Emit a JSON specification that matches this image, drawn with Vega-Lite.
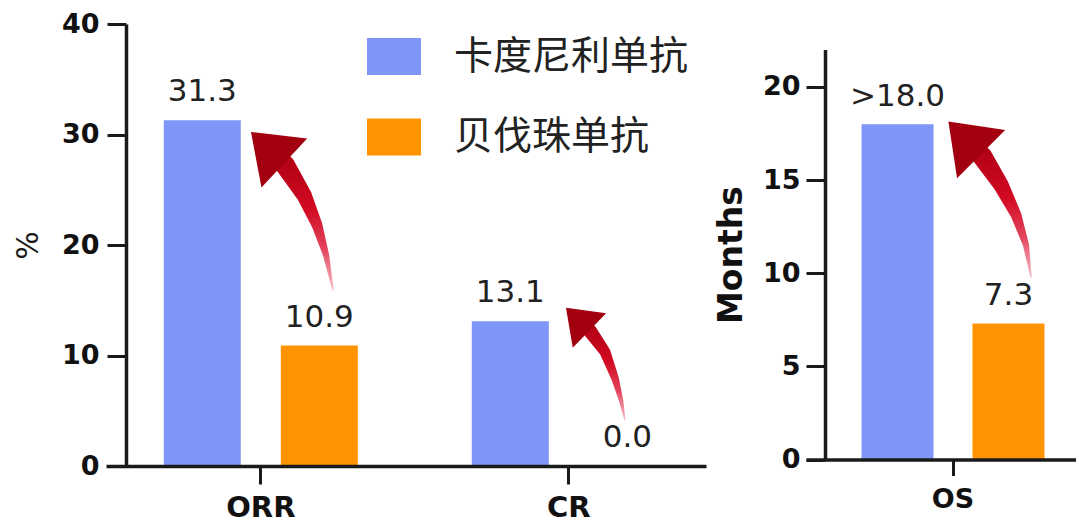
{
  "$schema": "https://vega.github.io/schema/vega-lite/v6.json",
  "padding": {"left": 13, "top": 10, "right": 0, "bottom": 0},
  "background": "white",
  "spacing": 9,
  "datasets": {
    "left": [
      {"metric": "ORR", "group": "卡度尼利单抗", "value": 31.3, "label": "31.3"},
      {"metric": "ORR", "group": "贝伐珠单抗", "value": 10.9, "label": "10.9"},
      {"metric": "CR", "group": "卡度尼利单抗", "value": 13.1, "label": "13.1"},
      {"metric": "CR", "group": "贝伐珠单抗", "value": 0.0, "label": "0.0"}
    ],
    "right": [
      {"metric": "OS", "group": "卡度尼利单抗", "value": 18.0, "label": ">18.0"},
      {"metric": "OS", "group": "贝伐珠单抗", "value": 7.3, "label": "7.3"}
    ],
    "arrowORR": [
      {"ax": 29.83, "ay": 27.24, "t": 0},
      {"ax": 33.0, "ay": 24.52, "t": 0.25},
      {"ax": 35.17, "ay": 21.81, "t": 0.5},
      {"ax": 36.67, "ay": 19.1, "t": 0.75},
      {"ax": 37.83, "ay": 15.93, "t": 1}
    ],
    "headORR": [{"ax": 27.88, "ay": 28.35}],
    "arrowCR": [
      {"ax": 80.67, "ay": 12.22, "t": 0},
      {"ax": 83.17, "ay": 10.32, "t": 0.25},
      {"ax": 84.83, "ay": 7.96, "t": 0.5},
      {"ax": 85.83, "ay": 5.97, "t": 0.75},
      {"ax": 86.5, "ay": 4.16, "t": 1}
    ],
    "headCR": [{"ax": 79.28, "ay": 12.94}],
    "arrowOS": [
      {"ax": 65.19, "ay": 16.29, "t": 0},
      {"ax": 72.22, "ay": 14.73, "t": 0.25},
      {"ax": 77.78, "ay": 13.13, "t": 0.5},
      {"ax": 81.48, "ay": 11.51, "t": 0.75},
      {"ax": 83.33, "ay": 9.8, "t": 1}
    ],
    "headOS": [{"ax": 60.85, "ay": 16.97}]
  },
  "resolve": {
    "scale": {"color": "shared", "x": "independent", "y": "independent", "xOffset": "independent", "size": "independent"},
    "legend": {"color": "shared"}
  },
  "hconcat": [
    {
      "width": 600,
      "height": 442,
      "resolve": {"scale": {"x": "independent", "size": "independent"}},
      "layer": [
        {
          "data": {"name": "left"},
          "layer": [
            {
              "mark": {"type": "bar", "opacity": 1},
              "encoding": {
                "x": {
                  "field": "metric", "type": "nominal", "sort": ["ORR", "CR"],
                  "scale": {"paddingInner": 0.37, "paddingOuter": 0.159, "align": 0.59},
                  "axis": {
                    "title": null, "labelAngle": 0, "labelFontSize": 29, "labelFontWeight": "bold",
                    "labelColor": "#111111", "labelPadding": 9, "tickSize": 18, "tickWidth": 3,
                    "tickColor": "#1a1a1a", "domainWidth": 3.5, "domainColor": "#1a1a1a", "zindex": 1
                  }
                },
                "xOffset": {
                  "field": "group", "type": "nominal", "sort": ["卡度尼利单抗", "贝伐珠单抗"],
                  "scale": {"paddingInner": 0.342, "paddingOuter": 0}
                },
                "y": {
                  "field": "value", "type": "quantitative",
                  "scale": {"domain": [0, 40], "nice": false},
                  "axis": {
                    "title": "%", "titleFontSize": 30, "titleFontWeight": "normal", "titleColor": "#1a1a1a",
                    "titlePadding": 18, "values": [0, 10, 20, 30, 40], "labelFontSize": 27,
                    "labelFontWeight": "bold", "labelColor": "#111111", "labelPadding": 8,
                    "tickSize": 19, "tickWidth": 3, "tickColor": "#1a1a1a", "domainWidth": 3.5,
                    "domainColor": "#1a1a1a", "offset": -20, "zindex": 1
                  }
                },
                "color": {
                  "field": "group", "type": "nominal",
                  "scale": {"domain": ["卡度尼利单抗", "贝伐珠单抗"], "range": ["#7f96f8", "#ff9400"]}
                }
              }
            },
            {
              "mark": {"type": "text", "baseline": "alphabetic", "dy": -19, "fontSize": 31, "color": "#222222"},
              "encoding": {
                "x": {"field": "metric", "type": "nominal", "sort": ["ORR", "CR"],
                      "scale": {"paddingInner": 0.37, "paddingOuter": 0.159, "align": 0.59}},
                "xOffset": {"field": "group", "type": "nominal", "sort": ["卡度尼利单抗", "贝伐珠单抗"],
                            "scale": {"paddingInner": 0.342, "paddingOuter": 0}},
                "y": {"field": "value", "type": "quantitative", "scale": {"domain": [0, 40], "nice": false}},
                "text": {"field": "label"}
              }
            }
          ]
        },
        {
          "data": {"name": "arrowORR"},
          "mark": {"type": "trail", "opacity": 1,
                   "color": {"gradient": "linear", "x1": 0, "y1": 1, "x2": 0, "y2": 0,
                             "stops": [{"offset": 0, "color": "#f7c3cb"}, {"offset": 0.3, "color": "#e4475f"},
                                       {"offset": 0.6, "color": "#d20a22"}, {"offset": 1, "color": "#b00014"}]}},
          "encoding": {
            "x": {"field": "ax", "type": "quantitative", "scale": {"domain": [0, 100], "nice": false, "zero": false}, "axis": null},
            "y": {"field": "ay", "type": "quantitative", "scale": {"domain": [0, 40], "nice": false}},
            "size": {"field": "t", "type": "quantitative", "scale": {"domain": [0, 1], "range": [20, 1.5], "zero": false}, "legend": null}
          }
        },
        {
          "data": {"name": "headORR"},
          "mark": {"type": "point", "filled": true, "opacity": 1, "fill": "#a3000f", "strokeWidth": 0,
                   "shape": "M0,-0.91L1,0.45L-1,0.45Z", "size": 4489, "angle": 313},
          "encoding": {
            "x": {"field": "ax", "type": "quantitative", "scale": {"domain": [0, 100], "nice": false, "zero": false}, "axis": null},
            "y": {"field": "ay", "type": "quantitative", "scale": {"domain": [0, 40], "nice": false}}
          }
        },
        {
          "data": {"name": "arrowCR"},
          "mark": {"type": "trail", "opacity": 1,
                   "color": {"gradient": "linear", "x1": 0, "y1": 1, "x2": 0, "y2": 0,
                             "stops": [{"offset": 0, "color": "#f7c3cb"}, {"offset": 0.3, "color": "#e4475f"},
                                       {"offset": 0.6, "color": "#d20a22"}, {"offset": 1, "color": "#b00014"}]}},
          "encoding": {
            "x": {"field": "ax", "type": "quantitative", "scale": {"domain": [0, 100], "nice": false, "zero": false}, "axis": null},
            "y": {"field": "ay", "type": "quantitative", "scale": {"domain": [0, 40], "nice": false}},
            "size": {"field": "t", "type": "quantitative", "scale": {"domain": [0, 1], "range": [14, 1.2], "zero": false}, "legend": null}
          }
        },
        {
          "data": {"name": "headCR"},
          "mark": {"type": "point", "filled": true, "opacity": 1, "fill": "#a3000f", "strokeWidth": 0,
                   "shape": "M0,-0.91L1,0.45L-1,0.45Z", "size": 2304, "angle": 314},
          "encoding": {
            "x": {"field": "ax", "type": "quantitative", "scale": {"domain": [0, 100], "nice": false, "zero": false}, "axis": null},
            "y": {"field": "ay", "type": "quantitative", "scale": {"domain": [0, 40], "nice": false}}
          }
        }
      ]
    },
    {
      "width": 270,
      "height": 435.5,
      "resolve": {"scale": {"x": "independent", "size": "independent"}},
      "layer": [
        {
          "data": {"name": "right"},
          "layer": [
            {
              "mark": {"type": "bar", "opacity": 1},
              "encoding": {
                "x": {
                  "field": "metric", "type": "nominal",
                  "scale": {"paddingInner": 0, "paddingOuter": 0.238, "align": 0.638},
                  "axis": {
                    "title": null, "labelAngle": 0, "labelFontSize": 27, "labelFontWeight": "bold",
                    "labelColor": "#111111", "labelPadding": 11, "tickSize": 16, "tickWidth": 3,
                    "tickColor": "#1a1a1a", "domainWidth": 3.5, "domainColor": "#1a1a1a", "zindex": 1
                  }
                },
                "xOffset": {
                  "field": "group", "type": "nominal", "sort": ["卡度尼利单抗", "贝伐珠单抗"],
                  "scale": {"paddingInner": 0.351, "paddingOuter": 0}
                },
                "y": {
                  "field": "value", "type": "quantitative",
                  "scale": {"domain": [0, 22], "nice": false, "range": [435.5, 25.6]},
                  "axis": {
                    "title": "Months", "titleFontSize": 33, "titleFontWeight": "bold", "titleColor": "#111111",
                    "titlePadding": 14, "values": [0, 5, 10, 15, 20], "labelFontSize": 27,
                    "labelFontWeight": "bold", "labelColor": "#111111", "labelPadding": 6,
                    "tickSize": 19, "tickWidth": 3, "tickColor": "#1a1a1a", "domainWidth": 3.5,
                    "domainColor": "#1a1a1a", "offset": -19, "zindex": 1
                  }
                },
                "color": {
                  "field": "group", "type": "nominal",
                  "scale": {"domain": ["卡度尼利单抗", "贝伐珠单抗"], "range": ["#7f96f8", "#ff9400"]}
                }
              }
            },
            {
              "mark": {"type": "text", "baseline": "alphabetic", "dy": -18, "fontSize": 31, "color": "#222222"},
              "encoding": {
                "x": {"field": "metric", "type": "nominal",
                      "scale": {"paddingInner": 0, "paddingOuter": 0.238, "align": 0.638}},
                "xOffset": {"field": "group", "type": "nominal", "sort": ["卡度尼利单抗", "贝伐珠单抗"],
                            "scale": {"paddingInner": 0.351, "paddingOuter": 0}},
                "y": {"field": "value", "type": "quantitative", "scale": {"domain": [0, 22], "nice": false, "range": [435.5, 25.6]}},
                "text": {"field": "label"}
              }
            }
          ]
        },
        {
          "data": {"name": "arrowOS"},
          "mark": {"type": "trail", "opacity": 1,
                   "color": {"gradient": "linear", "x1": 0, "y1": 1, "x2": 0, "y2": 0,
                             "stops": [{"offset": 0, "color": "#f7c3cb"}, {"offset": 0.3, "color": "#e4475f"},
                                       {"offset": 0.6, "color": "#d20a22"}, {"offset": 1, "color": "#b00014"}]}},
          "encoding": {
            "x": {"field": "ax", "type": "quantitative", "scale": {"domain": [0, 100], "nice": false, "zero": false}, "axis": null},
            "y": {"field": "ay", "type": "quantitative", "scale": {"domain": [0, 22], "nice": false, "range": [435.5, 25.6]}},
            "size": {"field": "t", "type": "quantitative", "scale": {"domain": [0, 1], "range": [20, 1.5], "zero": false}, "legend": null}
          }
        },
        {
          "data": {"name": "headOS"},
          "mark": {"type": "point", "filled": true, "opacity": 1, "fill": "#a3000f", "strokeWidth": 0,
                   "shape": "M0,-0.91L1,0.45L-1,0.45Z", "size": 4624, "angle": 315},
          "encoding": {
            "x": {"field": "ax", "type": "quantitative", "scale": {"domain": [0, 100], "nice": false, "zero": false}, "axis": null},
            "y": {"field": "ay", "type": "quantitative", "scale": {"domain": [0, 22], "nice": false, "range": [435.5, 25.6]}}
          }
        }
      ]
    }
  ],
  "config": {
    "font": "DejaVu Sans",
    "view": {"stroke": null},
    "axis": {"grid": false, "labelFont": "DejaVu Sans", "titleFont": "DejaVu Sans"},
    "legend": {
      "orient": "none", "legendX": 261, "legendY": 5.5, "title": null,
      "symbolType": "M-1,-0.685H1V0.685H-1Z", "symbolSize": 2916, "symbolStrokeWidth": 0, "symbolOpacity": 1,
      "labelFont": "Noto Sans CJK SC", "labelFontSize": 39, "labelColor": "#222222", "labelOffset": 33,
      "labelLimit": 0, "rowPadding": 33.5, "padding": 0
    }
  }
}
